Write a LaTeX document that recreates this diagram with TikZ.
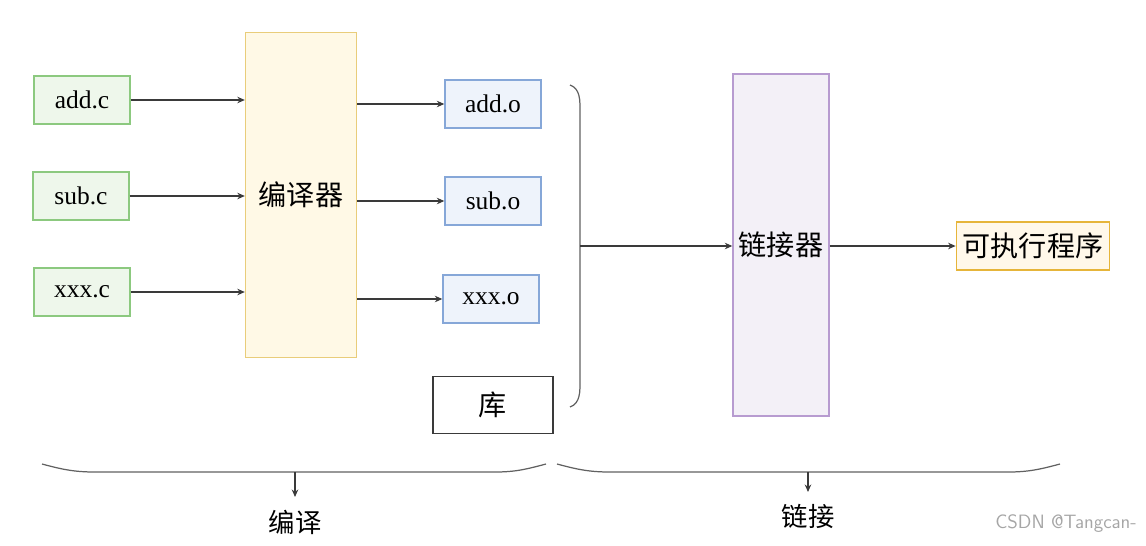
\documentclass[tikz,border=0pt]{standalone}
\usepackage{fontspec}
\setmainfont{Liberation Serif}
\newfontfamily\cjk{Noto Sans CJK SC}
\usepackage{tikz}
\usetikzlibrary{arrows.meta,positioning,calc}
\definecolor{vert}{HTML}{8CC97F}
\definecolor{vertclair}{HTML}{EEF7EB}
\definecolor{jaune}{HTML}{E9CD7A}
\definecolor{jauneclair}{HTML}{FFF9E6}
\definecolor{bleu}{HTML}{86A7D8}
\definecolor{bleuclair}{HTML}{EEF3FB}
\definecolor{violet}{HTML}{B79BD0}
\definecolor{violetclair}{HTML}{F3F0F7}
\definecolor{orange}{HTML}{E6B53A}
\definecolor{orangeclair}{HTML}{FFF8EA}
\definecolor{gris}{HTML}{3A3A3A}
\tikzset{
  boite/.style={draw,line width=0.8pt,inner sep=0pt,align=center},
  fichier/.style={boite,minimum width=1.92cm,minimum height=0.96cm,font=\fontsize{14.5}{16}\selectfont},
  outil/.style={boite,font=\cjk\fontsize{16}{18}\selectfont},
  fleche/.style={-{Stealth[length=1.5mm,width=1.3mm]},line width=0.7pt,color=gris},
  accolade/.style={line width=0.7pt,color=gris!80},
}

\begin{document}
\begin{tikzpicture}[x=0.02cm,y=-0.02cm]
  \useasboundingbox (0,0) rectangle (1146,545);
  % fichiers sources
  \node[fichier,draw=vert,fill=vertclair] (addc) at (82,100) {add.c};
  \node[fichier,draw=vert,fill=vertclair] (subc) at (81,196) {sub.c};
  \node[fichier,draw=vert,fill=vertclair] (xxxc) at (82,292) {xxx.c};
  % compilateur
  \node[outil,draw=jaune,fill=jauneclair,minimum width=2.22cm,minimum height=6.5cm] (comp) at (301,195) {编译器};
  % fichiers objets
  \node[fichier,draw=bleu,fill=bleuclair] (addo) at (493,104) {add.o};
  \node[fichier,draw=bleu,fill=bleuclair] (subo) at (493,201) {sub.o};
  \node[fichier,draw=bleu,fill=bleuclair] (xxxo) at (491,299) {xxx.o};
  \node[outil,draw=gris,line width=1pt,minimum width=2.4cm,minimum height=1.14cm] (lib) at (493,405) {库};
  % editeur de liens
  \node[outil,draw=violet,fill=violetclair,minimum width=1.92cm,minimum height=6.84cm] (link) at (781,245) {链接器};
  \node[outil,draw=orange,fill=orangeclair,minimum width=3.06cm,minimum height=0.96cm,line width=1pt] (exe) at (1033,246) {可执行程序};
  \draw[fleche] (addc.east) -- (addc.east -| comp.west);
  \draw[fleche] (subc.east) -- (subc.east -| comp.west);
  \draw[fleche] (xxxc.east) -- (xxxc.east -| comp.west);
  \draw[fleche] (comp.east |- addo.west) -- (addo.west);
  \draw[fleche] (comp.east |- subo.west) -- (subo.west);
  \draw[fleche] (comp.east |- xxxo.west) -- (xxxo.west);
  % parenthese
  \coordinate (brk) at (580,246);
  \draw[accolade] (570,85) to[out=-20,in=90] (580,112) -- (580,380) to[out=-90,in=20] (570,407);
  \draw[fleche] (brk) -- (brk -| link.west);
  \draw[fleche] (link.east |- exe.west) -- (exe.west);
  % accolades du bas
  \coordinate (tc) at (295,472);
  \coordinate (tl) at (808,472);
  \coordinate (bc) at (295,497);
  \coordinate (bl) at (808,492);
  \draw[accolade] (42,464) to[out=-15,in=180] (95,472) -- (495,472) to[out=0,in=-165] (546,464);
  \draw[accolade] (557,464) to[out=-15,in=180] (610,472) -- (1008,472) to[out=0,in=-165] (1060,464);
  \node[font=\cjk\fontsize{15}{17}\selectfont] (compil) at (295,522) {编译};
  \node[font=\cjk\fontsize{15}{17}\selectfont] (edition) at (808,516) {链接};
  \draw[fleche] (tc) -- (bc);
  \draw[fleche] (tl) -- (bl);
  \node[font=\sffamily\fontsize{11}{13}\selectfont,text=gris!45] (marque) at (1066,524) {CSDN @Tangcan-};
\end{tikzpicture}
\end{document}
